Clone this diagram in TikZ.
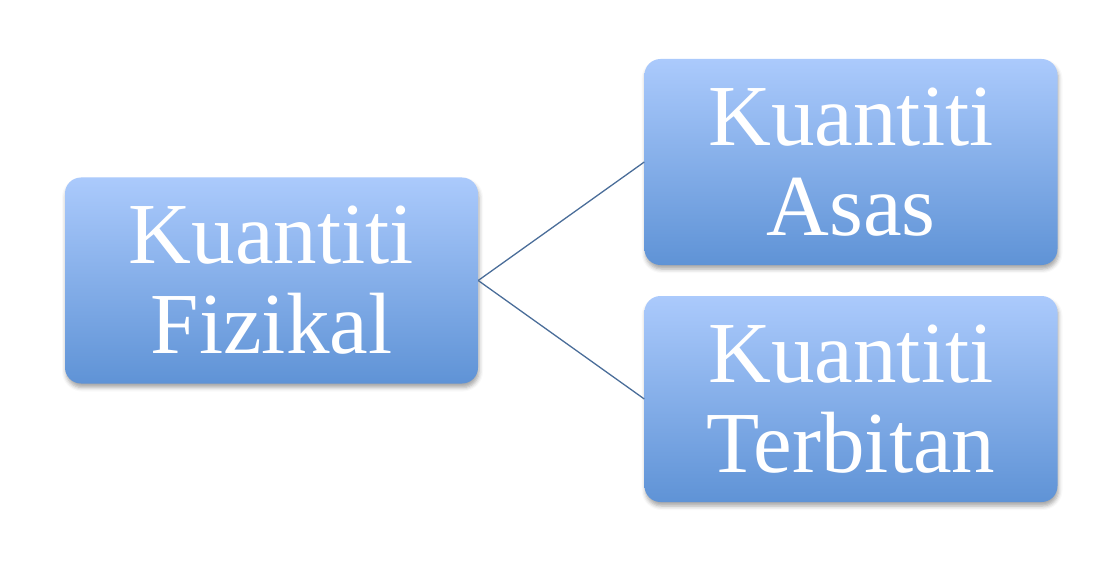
\documentclass[tikz,border=0pt]{standalone}
\usepackage{fontspec}
\setmainfont{Liberation Serif}
\usetikzlibrary{shadows.blur}
\definecolor{boxtop}{HTML}{ABCAFC}
\definecolor{boxbot}{HTML}{5F93D6}
\definecolor{linkc}{HTML}{4A6D99}
\begin{document}
\begin{tikzpicture}[x=1pt,y=-1pt,
  qbox/.style={rectangle, rounded corners=16pt, draw=none,
    top color=boxtop, bottom color=boxbot,
    minimum width=413pt, minimum height=206pt, inner sep=0pt,
    text=white, align=center, font=\fontsize{87}{90}\selectfont,
    blur shadow={shadow xshift=1pt, shadow yshift=-4pt, shadow opacity=35, shadow blur radius=4pt}},
  link/.style={draw=linkc, line width=1.3pt}]
\useasboundingbox (0,0) rectangle (1100,564);
\node[qbox] (fiz) at (271.5,280.5) {Kuantiti\\Fizikal};
\node[qbox] (asas) at (851,162) {Kuantiti\\Asas};
\node[qbox] (terb) at (851,399) {Kuantiti\\Terbitan};
\draw[link] (fiz.east) -- (asas.west);
\draw[link] (fiz.east) -- (terb.west);
\end{tikzpicture}
\end{document}
